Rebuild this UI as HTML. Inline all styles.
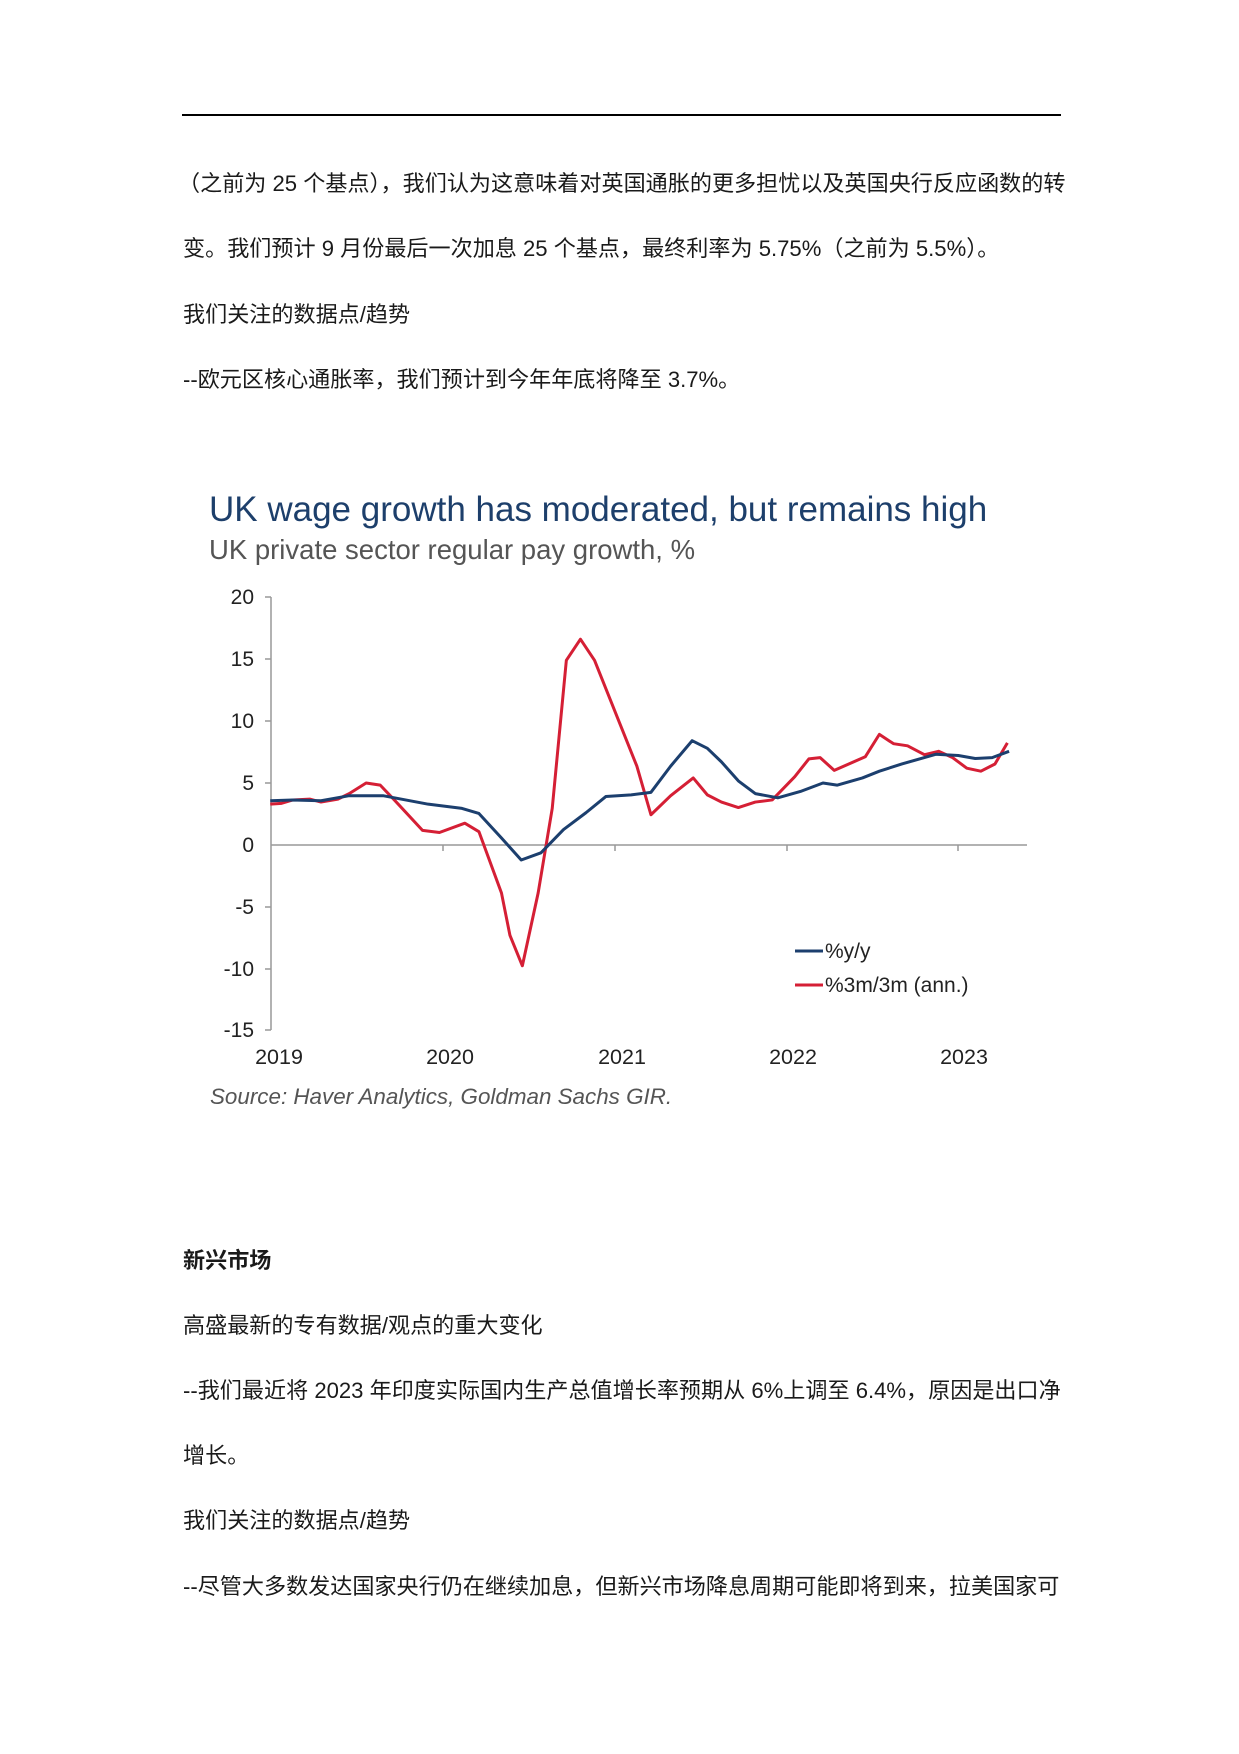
<!DOCTYPE html>
<html><head><meta charset="utf-8"><style>
html,body{margin:0;padding:0;background:#fff;}
body{width:1239px;height:1754px;position:relative;overflow:hidden;font-family:"Liberation Sans","Noto Sans CJK SC",sans-serif;color:#1a1a1a;}
.t{position:absolute;left:183px;font-size:22.1px;white-space:nowrap;line-height:1;}
</style></head><body>
<div style="position:absolute;left:182px;top:114px;width:879px;height:2px;background:#000"></div>
<div class="t" style="left:178px;top:173px">（之前为 25 个基点），我们认为这意味着对英国通胀的更多担忧以及英国央行反应函数的转</div>
<div class="t" style="top:238px">变。我们预计 9 月份最后一次加息 25 个基点，最终利率为 5.75%（之前为 5.5%）。</div>
<div class="t" style="top:304px">我们关注的数据点/趋势</div>
<div class="t" style="top:369px">--欧元区核心通胀率，我们预计到今年年底将降至 3.7%。</div>

<svg style="position:absolute;left:0;top:0" width="1239" height="1754" xmlns="http://www.w3.org/2000/svg">
<text x="209" y="521" font-family="Liberation Sans,sans-serif" font-size="35" fill="#1d3f6b">UK wage growth has moderated, but remains high</text>
<text x="209" y="559" font-family="Liberation Sans,sans-serif" font-size="27.5" fill="#555">UK private sector regular pay growth, %</text>
<g font-family="Liberation Sans,sans-serif" font-size="21" fill="#222" text-anchor="end">
<text x="254" y="604">20</text><text x="254" y="666">15</text><text x="254" y="728">10</text>
<text x="254" y="790">5</text><text x="254" y="852">0</text><text x="254" y="914">-5</text>
<text x="254" y="976">-10</text><text x="254" y="1037">-15</text>
</g>
<g stroke="#999" stroke-width="1.5" fill="none">
<line x1="271" y1="597" x2="271" y2="1030"/>
<line x1="271" y1="845" x2="1027" y2="845"/>
<line x1="265" y1="597" x2="271" y2="597"/><line x1="265" y1="659" x2="271" y2="659"/>
<line x1="265" y1="721" x2="271" y2="721"/><line x1="265" y1="783" x2="271" y2="783"/>
<line x1="265" y1="907" x2="271" y2="907"/><line x1="265" y1="969" x2="271" y2="969"/>
<line x1="265" y1="1030" x2="271" y2="1030"/>
<line x1="443" y1="845" x2="443" y2="851"/><line x1="615" y1="845" x2="615" y2="851"/>
<line x1="787" y1="845" x2="787" y2="851"/><line x1="958" y1="845" x2="958" y2="851"/>
</g>
<g font-family="Liberation Sans,sans-serif" font-size="21.5" fill="#222" text-anchor="middle">
<text x="279" y="1064">2019</text><text x="450" y="1064">2020</text><text x="622" y="1064">2021</text>
<text x="793" y="1064">2022</text><text x="964" y="1064">2023</text>
</g>
<g transform="translate(180,470) scale(0.564,0.423)" fill="none" stroke-width="3" stroke-linejoin="round">
<polyline vector-effect="non-scaling-stroke" stroke="#d51f35" points="160,790 180,788 200,780 230,778 250,785 280,778 300,765 330,740 355,745 380,780 430,852 460,857 505,835 530,855 570,1000 585,1100 607,1172 635,1000 660,800 685,450 710,400 735,450 780,600 810,700 835,815 870,770 910,728 935,768 960,785 990,798 1020,785 1050,780 1090,725 1115,683 1135,680 1160,710 1215,678 1240,625 1265,647 1290,652 1320,673 1345,665 1370,680 1395,705 1420,712 1445,695 1467,645"/>
<polyline vector-effect="non-scaling-stroke" stroke="#1c3f6e" points="160,782 200,780 250,782 300,770 360,770 400,780 440,790 500,800 530,812 570,870 605,922 640,905 680,850 720,810 755,772 800,768 835,762 870,700 908,640 935,658 960,690 990,735 1020,765 1060,775 1100,760 1140,740 1165,745 1210,728 1240,712 1280,695 1340,672 1380,675 1410,682 1440,680 1470,665"/>
</g>
<line x1="795" y1="951" x2="823" y2="951" stroke="#1c3f6e" stroke-width="3"/>
<line x1="795" y1="985" x2="823" y2="985" stroke="#d51f35" stroke-width="3"/>
<g font-family="Liberation Sans,sans-serif" font-size="21" fill="#222">
<text x="825" y="958">%y/y</text><text x="825" y="992">%3m/3m (ann.)</text>
</g>
<text x="210" y="1104" font-family="Liberation Sans,sans-serif" font-size="22.4" font-style="italic" fill="#555">Source: Haver Analytics, Goldman Sachs GIR.</text>
</svg>

<div class="t" style="top:1250px;font-weight:bold">新兴市场</div>
<div class="t" style="top:1315px">高盛最新的专有数据/观点的重大变化</div>
<div class="t" style="top:1380px">--我们最近将 2023 年印度实际国内生产总值增长率预期从 6%上调至 6.4%，原因是出口净</div>
<div class="t" style="top:1445px">增长。</div>
<div class="t" style="top:1510px">我们关注的数据点/趋势</div>
<div class="t" style="top:1576px">--尽管大多数发达国家央行仍在继续加息，但新兴市场降息周期可能即将到来，拉美国家可</div>
</body></html>
